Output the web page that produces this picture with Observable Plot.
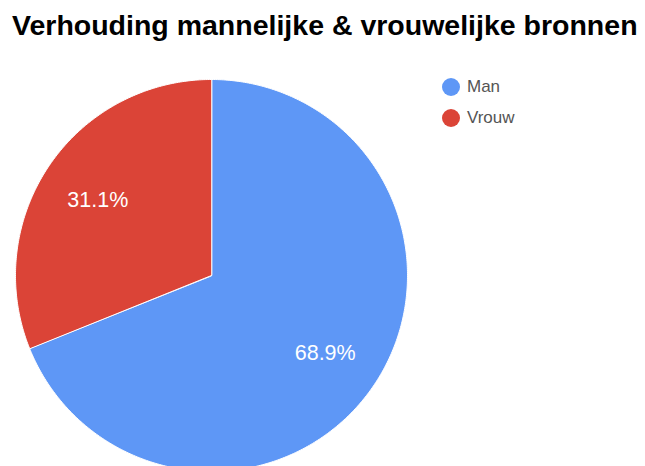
<!DOCTYPE html>
<html>
<head>
<meta charset="utf-8">
<script src="https://cdn.jsdelivr.net/npm/d3@7"></script>
<script src="https://cdn.jsdelivr.net/npm/@observablehq/plot@0.6"></script>
<style>
  html, body { margin: 0; padding: 0; background: #fff; }
  #wrap { position: relative; width: 645px; height: 466px; overflow: hidden; font-family: "Liberation Sans", Arial, sans-serif; }
  #title { position: absolute; left: 12px; top: 9px; font-size: 28.5px; font-weight: bold; color: #000; white-space: nowrap; }
  #legend { position: absolute; left: 442px; top: 71px; font-size: 17px; color: #555; }
  .item { display: flex; align-items: center; height: 31px; }
  .sw { width: 18px; height: 18px; border-radius: 50%; margin-right: 7px; }
  #chart { position: absolute; left: 0; top: 0; }
</style>
</head>
<body>
<div id="wrap">
  <div id="chart"></div>
  <div id="title">Verhouding mannelijke &amp; vrouwelijke bronnen</div>
  <div id="legend"></div>
</div>
<script>
const categories = ["Man", "Vrouw"];
const values = [68.9, 31.1];
const colors = ["#5e97f6", "#db4437"];
const title = "Verhouding mannelijke & vrouwelijke bronnen";

const total = d3.sum(values);
const pie = d3.pie().sort(null).value(d => d.value)(categories.map((c, i) => ({category: c, value: values[i]})));

// polygon outline of each slice in unit-circle coordinates (angle clockwise from top)
const outline = [];
pie.forEach(s => {
  outline.push({category: s.data.category, x: 0, y: 0});
  const n = Math.max(2, Math.ceil((s.endAngle - s.startAngle) / 0.01));
  for (let k = 0; k <= n; k++) {
    const a = s.startAngle + (s.endAngle - s.startAngle) * k / n;
    outline.push({category: s.data.category, x: Math.sin(a), y: Math.cos(a)});
  }
});
const labels = pie.map(s => {
  const a = (s.startAngle + s.endAngle) / 2;
  return {category: s.data.category, x: 0.7 * Math.sin(a), y: 0.7 * Math.cos(a),
          text: (s.data.value / total * 100).toFixed(1) + "%"};
});

const chart = Plot.plot({
  width: 645,
  height: 466,
  x: {domain: [-1, 1], range: [15, 407], axis: null},
  y: {domain: [-1, 1], range: [471, 79], axis: null},
  color: {domain: categories, range: colors},
  style: {background: "transparent"},
  marks: [
    Plot.line(outline, {x: "x", y: "y", z: "category", fill: "category", stroke: "#fff", strokeWidth: 1, curve: "linear-closed"}),
    Plot.text(labels, {x: "x", y: "y", text: "text", fill: "#fff", fontSize: 21.5, fontFamily: "Liberation Sans, Arial, sans-serif", dy: 1})
  ]
});
document.getElementById("chart").appendChild(chart);

const legend = document.getElementById("legend");
categories.forEach((c, i) => {
  const it = document.createElement("div");
  it.className = "item";
  const sw = document.createElement("div");
  sw.className = "sw";
  sw.style.background = colors[i];
  const t = document.createElement("span");
  t.textContent = c;
  it.appendChild(sw); it.appendChild(t);
  legend.appendChild(it);
});
</script>
</body>
</html>
